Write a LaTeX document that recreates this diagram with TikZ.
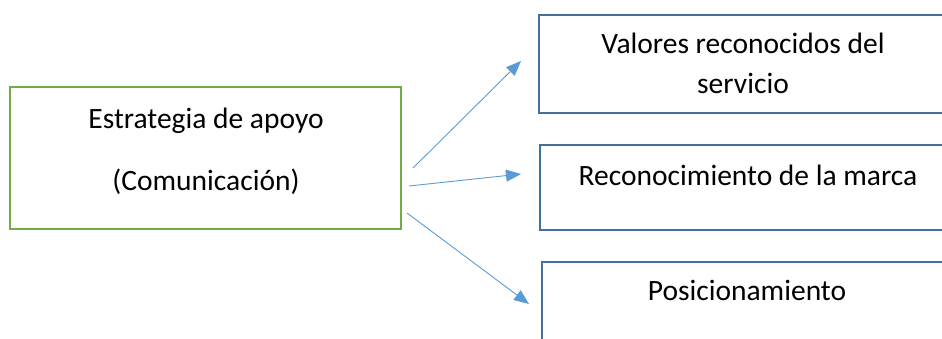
\documentclass[tikz,border=0pt]{standalone}
\usepackage{fontspec}
\setmainfont{Carlito}
\usetikzlibrary{arrows.meta}
\definecolor{boxgreen}{HTML}{70AD47}
\definecolor{boxblue}{HTML}{41719C}
\definecolor{arrowblue}{HTML}{5B9BD5}
\tikzset{
  greenbox/.style={draw=boxgreen, line width=2pt},
  bluebox/.style={draw=boxblue, line width=2pt},
  caption/.style={font=\fontsize{29.5}{40}\selectfont, text=black, inner sep=0pt, anchor=base},
  link/.style={draw=arrowblue, line width=0.9pt, -{Triangle[length=15pt,width=12pt]}}
}
\begin{document}
\begin{tikzpicture}[x=1pt,y=-1pt]
  \useasboundingbox (0,0) rectangle (942,338);
  \clip (0,0) rectangle (942,338);
  % source box
  \draw[greenbox] (10,87) rectangle (401,229);
  \node[caption] (src1) at (206,128) {Estrategia de apoyo};
  \node[caption] (src2) at (206,190) {(Comunicación)};
  % target boxes, running past the right edge
  \draw[bluebox] (539,15) rectangle (960,113);
  \draw[bluebox] (540,145) rectangle (960,230);
  \draw[bluebox] (542,262) rectangle (960,360);
  \node[caption] (t1a) at (743,53) {Valores reconocidos del};
  \node[caption] (t1b) at (743,93) {servicio};
  \node[caption] (t2) at (748,185) {Reconocimiento de la marca};
  \node[caption] (t3) at (747,300) {Posicionamiento};
  % arrow ends
  \coordinate (s1) at (413,168);
  \coordinate (s2) at (409,186);
  \coordinate (s3) at (407,213);
  \coordinate (e1) at (521,61);
  \coordinate (e2) at (521,174);
  \coordinate (e3) at (529,304);
  \draw[link] (s1) -- (e1);
  \draw[link] (s2) -- (e2);
  \draw[link] (s3) -- (e3);
\end{tikzpicture}
\end{document}
